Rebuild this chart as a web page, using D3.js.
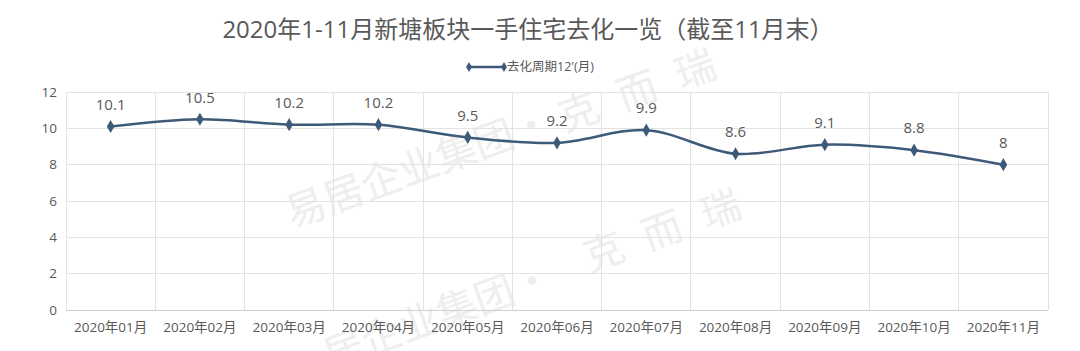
<!DOCTYPE html>
<html><head><meta charset="utf-8">
<script src="https://cdn.jsdelivr.net/npm/d3@7/dist/d3.min.js"></script>
<style>body{margin:0;background:#fff;}svg{display:block;font-family:"Open Sans","Noto Sans CJK SC",sans-serif;}</style>
</head><body>
<svg id="c" width="1080" height="351"></svg>
<script>
const categories = ["2020年01月","2020年02月","2020年03月","2020年04月","2020年05月","2020年06月","2020年07月","2020年08月","2020年09月","2020年10月","2020年11月"];
const values = [10.1,10.5,10.2,10.2,9.5,9.2,9.9,8.6,9.1,8.8,8];
const yTicks = [0,2,4,6,8,10,12];
const title = "2020年1-11月新塘板块一手住宅去化一览（截至11月末）";
const seriesName = "去化周期12'(月)";

const svg = d3.select("#c");
const m = {l:66, r:1048, t:92, b:310};
const x = d3.scaleBand().domain(categories).range([m.l, m.r]);
const y = d3.scaleLinear().domain([0,12]).range([m.b, m.t]);
const lineColor = "#3d5a78";
const textColor = "#595959";

// watermark
const wm = svg.append("g").attr("fill","#eeeeee").attr("font-family","Noto Sans CJK SC");
wm.append("text").attr("transform","translate(292,228) rotate(-20)").attr("font-size",40).text("易居企业集团·");
wm.append("text").attr("transform","translate(565,132) rotate(-20)").attr("font-size",40).attr("letter-spacing",22).text("克而瑞");
wm.append("text").attr("transform","translate(330,370) rotate(-20)").attr("font-size",40).text("居企业集团·");
wm.append("text").attr("transform","translate(590,272) rotate(-20)").attr("font-size",40).attr("letter-spacing",22).text("克而瑞");

// grid horizontal
svg.append("g").selectAll("line").data(yTicks).join("line")
  .attr("x1",m.l).attr("x2",m.r).attr("y1",d=>y(d)).attr("y2",d=>y(d))
  .attr("stroke",d=>d===0?"#d0d0d0":"#e3e3e3").attr("stroke-width",1).attr("shape-rendering","crispEdges");
// grid vertical (category boundaries)
const bounds = categories.map(c=>x(c)).concat([m.r]);
svg.append("g").selectAll("line").data(bounds).join("line")
  .attr("x1",d=>d).attr("x2",d=>d).attr("y1",m.t).attr("y2",m.b)
  .attr("stroke","#e3e3e3").attr("stroke-width",1).attr("shape-rendering","crispEdges");

// y axis labels
svg.append("g").selectAll("text").data(yTicks).join("text")
  .attr("x",57).attr("y",d=>y(d)).attr("dy","0.35em").attr("text-anchor","end")
  .attr("font-size",13.5).attr("fill",textColor).text(d=>d);

// x axis labels
svg.append("g").selectAll("text").data(categories).join("text")
  .attr("x",d=>x(d)+x.bandwidth()/2).attr("y",327).attr("dy","0.35em").attr("text-anchor","middle")
  .attr("font-size",13.5).attr("fill",textColor).text(d=>d);

// line
const pts = categories.map((c,i)=>[x(c)+x.bandwidth()/2, y(values[i])]);
svg.append("path").attr("d", d3.line().curve(d3.curveCatmullRom.alpha(0.5))(pts))
  .attr("fill","none").attr("stroke",lineColor).attr("stroke-width",2.5);

// markers
const diamond = d3.symbol().type(d3.symbolDiamond).size(50);
svg.append("g").selectAll("path").data(pts).join("path")
  .attr("d",diamond).attr("transform",d=>`translate(${d[0]},${d[1]})`).attr("fill",lineColor);

// data labels
svg.append("g").selectAll("text").data(values).join("text")
  .attr("x",(d,i)=>pts[i][0]).attr("y",(d,i)=>pts[i][1]-22).attr("dy","0.35em").attr("text-anchor","middle")
  .attr("font-size",15).attr("fill",textColor).text(d=>d);

// title
svg.append("text").attr("x",528).attr("y",30).attr("dy","0.35em").attr("text-anchor","middle")
  .attr("font-size",24).attr("fill",textColor).text(title);

// legend
const lg = svg.append("g");
lg.append("line").attr("x1",469).attr("x2",504).attr("y1",67).attr("y2",67).attr("stroke",lineColor).attr("stroke-width",2.5);
lg.selectAll("path").data([469,504]).join("path").attr("d",d3.symbol().type(d3.symbolDiamond).size(30))
  .attr("transform",d=>`translate(${d},67)`).attr("fill",lineColor);
lg.append("text").attr("x",507).attr("y",67).attr("dy","0.35em").attr("font-size",12.5).attr("fill",textColor).text(seriesName);
</script>
</body></html>
